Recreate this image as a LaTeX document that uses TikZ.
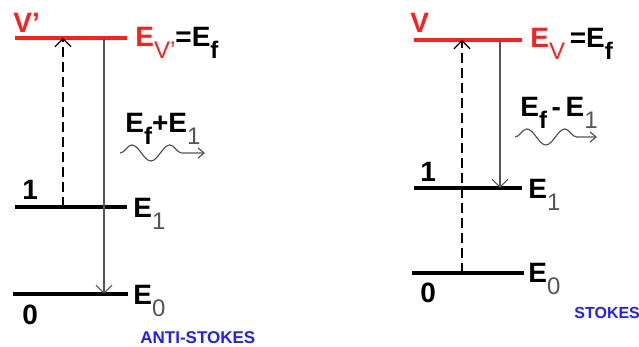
\documentclass[tikz,border=0pt]{standalone}
\usepackage{fontspec}
\setmainfont{Liberation Sans}
\usetikzlibrary{arrows.meta, decorations.pathmorphing}
\usepackage{xcolor}
\definecolor{rr}{HTML}{FF1F1F}
\definecolor{bb}{HTML}{1F1FFF}
\definecolor{gy}{HTML}{555555}
\newcommand{\lsub}[1]{\raisebox{-6pt}{\fontsize{12}{12}\selectfont\mdseries #1}}

\begin{document}
\begin{tikzpicture}[x=0.5pt, y=-0.5pt, font=\bfseries\fontsize{14}{16}\selectfont,
    level/.style={line width=1.8pt},
    lbl/.style={anchor=base west, inner sep=0pt},
    emit/.style={-{Straight Barb[length=4pt, width=8pt]}, line width=0.6pt, gy},
    absorb/.style={-{Straight Barb[length=4pt, width=8pt]}, line width=0.6pt, dash pattern=on 5pt off 2.5pt},
    photon/.style={-{Straight Barb[length=3pt, width=5pt]}, line width=0.6pt, gy, decorate,
      decoration={snake, amplitude=4pt, segment length=19pt, post length=6pt}},
    kind/.style={anchor=base west, inner sep=0pt, text=bb, font=\bfseries\fontsize{8.5}{9}\selectfont}]
  \useasboundingbox (0,0) rectangle (639,347);

  % anti-Stokes
  \coordinate (av1) at (15,38);  \coordinate (av2) at (127,38);
  \coordinate (a11) at (15,207); \coordinate (a12) at (127,207);
  \coordinate (a01) at (13,294); \coordinate (a02) at (128,294);
  \draw[level, rr] (av1) -- (av2);
  \draw[level] (a11) -- (a12);
  \draw[level] (a01) -- (a02);

  \coordinate (aup0) at (63,207);  \coordinate (aup1) at (63,38);
  \coordinate (adn0) at (104,38);  \coordinate (adn1) at (104,294);
  \draw[absorb] (aup0) -- (aup1);
  \draw[emit] (adn0) -- (adn1);

  \node[lbl, text=rr] (avn) at (13,33) {V’};
  \node[lbl] (ave) at (135,47) {{\color{rr}E\lsub{V’}}=E\lsub{\bfseries f}};
  \node[lbl] (a1n) at (22,200) {1};
  \node[lbl] (a1e) at (133,218) {E\lsub{\color{gy}1}};
  \node[lbl] (a0n) at (22,325) {0};
  \node[lbl] (a0e) at (133,305) {E\lsub{\color{gy}0}};
  \node[lbl] (aph) at (125,133) {E\lsub{\bfseries f}+E\lsub{\color{gy}1}};
  \coordinate (aw0) at (120,153); \coordinate (aw1) at (205,153);
  \draw[photon] (aw0) -- (aw1);
  \node[kind] (akind) at (140,344) {ANTI-STOKES};

  % Stokes
  \coordinate (sv1) at (414,40);  \coordinate (sv2) at (522,40);
  \coordinate (s11) at (414,188); \coordinate (s12) at (522,188);
  \coordinate (s01) at (412,273); \coordinate (s02) at (524,273);
  \draw[level, rr] (sv1) -- (sv2);
  \draw[level] (s11) -- (s12);
  \draw[level] (s01) -- (s02);

  \coordinate (sup0) at (462,273); \coordinate (sup1) at (462,40);
  \coordinate (sdn0) at (500,40);  \coordinate (sdn1) at (500,188);
  \draw[absorb] (sup0) -- (sup1);
  \draw[emit] (sdn0) -- (sdn1);

  \node[lbl, text=rr] (svn) at (410,33) {V};
  \node[lbl] (sve) at (530,48) {{\color{rr}E\lsub{V}}\,=E\lsub{\bfseries f}};
  \node[lbl] (s1n) at (420,182) {1};
  \node[lbl] (s1e) at (528,199) {E\lsub{\color{gy}1}};
  \node[lbl] (s0n) at (420,303) {0};
  \node[lbl] (s0e) at (528,283) {E\lsub{\color{gy}0}};
  \node[lbl] (sph) at (520,117) {E\lsub{\bfseries f}\,-\,E\lsub{\color{gy}1}};
  \coordinate (sw0) at (515,137); \coordinate (sw1) at (597,137);
  \draw[photon] (sw0) -- (sw1);
  \node[kind, font=\bfseries\fontsize{8}{9}\selectfont] (skind) at (574,319) {STOKES};
\end{tikzpicture}
\end{document}
